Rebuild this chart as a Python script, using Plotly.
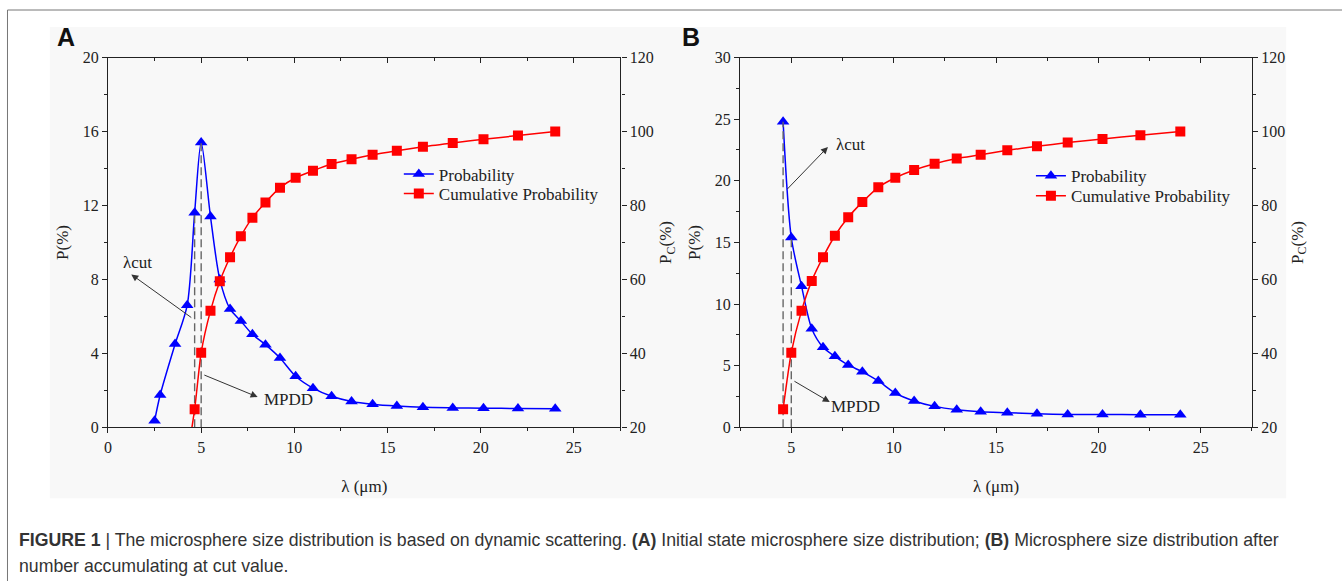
import plotly.graph_objects as go

# ---------------- data ----------------
# Panel A : initial state
lam_A = [2.5, 2.8, 3.6, 4.25, 4.65, 5.0, 5.5, 6.0, 6.55, 7.13, 7.75, 8.45, 9.23,
         10.07, 11.0, 12.0, 13.07, 14.2, 15.5, 16.9, 18.5, 20.15, 22.0, 24.0]
prob_A = [0.35, 1.75, 4.5, 6.6, 11.6, 15.4, 11.4, 8.0, 6.4, 5.75, 5.03, 4.47, 3.75,
          2.76, 2.12, 1.68, 1.4, 1.25, 1.15, 1.08, 1.05, 1.03, 1.02, 1.0]
cum_A = [0.35, 2.1, 6.6, 13.2, 24.9, 40.2, 51.5, 59.5, 66.0, 71.7, 76.7, 80.8, 84.8,
         87.5, 89.4, 91.2, 92.5, 93.7, 94.8, 95.9, 96.9, 97.9, 98.9, 100.0]

# Panel B : after accumulation at the cut value
lam_B = [4.6, 5.0, 5.5, 6.0, 6.55, 7.13, 7.78, 8.47, 9.25, 10.08, 11.0, 12.0, 13.08,
         14.25, 15.55, 17.0, 18.5, 20.2, 22.05, 24.0]
prob_B = [24.8, 15.4, 11.45, 8.0, 6.5, 5.76, 5.06, 4.5, 3.76, 2.78, 2.14, 1.7, 1.43,
          1.27, 1.19, 1.1, 1.05, 1.04, 1.03, 1.03]
cum_B = [24.9, 40.2, 51.5, 59.6, 66.0, 71.8, 76.8, 80.9, 84.9, 87.5, 89.6, 91.3, 92.7,
         93.7, 94.9, 96.0, 97.0, 98.0, 99.0, 100.0]

cut_idx_A, mpdd_idx_A = 4, 5
cut_idx_B, mpdd_idx_B = 0, 1

x_ticks = [0, 5, 10, 15, 20, 25]
yA_ticks = [0, 4, 8, 12, 16, 20]
yB_ticks = [0, 5, 10, 15, 20, 25, 30]
pc_ticks = [20, 40, 60, 80, 100, 120]

# ---------------- geometry / styles ----------------
W, H = 1342, 581
OFFX, OFFY, SY = 4, 8, 0.97   # page offset / vertical scale seen in the photograph
SERIF = "Liberation Serif"
INK = "#222222"
BLUE = "#0000ff"
RED = "#ff0000"


def fx(px):
    return (px - OFFX) / W


def fy(py):
    return 1 - ((py - OFFY) / SY) / H


fig = go.Figure()


def add_panel(lam, prob, cum, xa, ya, ya2, xtop, lg1, lg2, cut_i, mpdd_i):
    fig.add_trace(go.Scatter(
        x=lam, y=prob, name="Probability", mode="lines+markers",
        line=dict(color=BLUE, width=1.5, shape="spline", smoothing=0.8),
        marker=dict(symbol="triangle-up", size=11, color=BLUE),
        xaxis=xa, yaxis=ya, legend=lg1))
    fig.add_trace(go.Scatter(
        x=lam, y=cum, name="Cumulative Probability", mode="lines+markers",
        line=dict(color=RED, width=1.5, shape="spline", smoothing=0.6),
        marker=dict(symbol="square", size=10, color=RED),
        xaxis=xa, yaxis=ya2, legend=lg2))
    for i in (cut_i, mpdd_i):
        fig.add_trace(go.Scatter(
            x=[lam[i], lam[i]], y=[0, prob[i]], mode="lines",
            line=dict(color="#666666", width=1.4, dash="8px,4px"),
            showlegend=False, hoverinfo="skip", xaxis=xa, yaxis=ya))
    # dummy trace so that the top (mirror) axis is drawn
    fig.add_trace(go.Scatter(x=[None], y=[None], xaxis=xtop, yaxis=ya,
                             showlegend=False, hoverinfo="skip"))


add_panel(lam_A, prob_A, cum_A, "x", "y", "y2", "x2", "legend", "legend2",
          cut_idx_A, mpdd_idx_A)
add_panel(lam_B, prob_B, cum_B, "x3", "y3", "y4", "x4", "legend3", "legend4",
          cut_idx_B, mpdd_idx_B)

tickfont = dict(family=SERIF, size=16, color=INK)
titlefont = dict(family=SERIF, size=17, color=INK)


def axis(**kw):
    d = dict(showline=True, linecolor=INK, linewidth=1.3, ticks="outside", ticklen=5,
             tickwidth=1.2, tickcolor=INK, showgrid=False, zeroline=False,
             tickfont=tickfont, fixedrange=True)
    d.update(kw)
    return d


def minor(dt, ticks="outside"):
    return dict(ticks=ticks, ticklen=3, tickwidth=1.2, tickcolor=INK, dtick=dt, showgrid=False)


def legend_at(px, py):
    return dict(x=fx(px), y=fy(py), xanchor="left", yanchor="top",
                bgcolor="rgba(0,0,0,0)", font=dict(family=SERIF, size=17, color=INK))


domA = [fx(108.3), fx(622.3)]
domB = [fx(742.3), fx(1255.7)]
domY = [fy(427), fy(57.5)]

fig.update_layout(
    width=W, height=H, margin=dict(l=0, r=0, t=0, b=0),
    paper_bgcolor="white", plot_bgcolor="rgba(0,0,0,0)",
    showlegend=True,
    # ---- panel A
    xaxis=axis(domain=domA, range=[0, 27.5], tickvals=x_ticks, anchor="y",
               minor=minor(2.5),
               title=dict(text="λ (μm)", font=titlefont, standoff=25)),
    xaxis2=axis(domain=domA, range=[0, 27.5], tickvals=x_ticks, anchor="y",
                overlaying="x", side="top", ticks="inside", showticklabels=False,
                minor=minor(2.5, "inside")),
    yaxis=axis(domain=domY, range=[0, 20], tickvals=yA_ticks, anchor="x",
               minor=minor(2),
               title=dict(text="P(%)", font=titlefont, standoff=9)),
    yaxis2=axis(domain=domY, range=[20, 120], tickvals=pc_ticks, anchor="x",
                overlaying="y", side="right", minor=minor(10),
                title=dict(text="P<sub>C</sub>(%)", font=titlefont, standoff=6)),
    # ---- panel B
    xaxis3=axis(domain=domB, range=[2.5, 27.5], tickvals=x_ticks, anchor="y3",
                minor=minor(2.5),
                title=dict(text="λ (μm)", font=titlefont, standoff=25)),
    xaxis4=axis(domain=domB, range=[2.5, 27.5], tickvals=x_ticks, anchor="y3",
                overlaying="x3", side="top", ticks="inside", showticklabels=False,
                minor=minor(2.5, "inside")),
    yaxis3=axis(domain=domY, range=[0, 30], tickvals=yB_ticks, anchor="x3",
                minor=minor(2.5),
                title=dict(text="P(%)", font=titlefont, standoff=9)),
    yaxis4=axis(domain=domY, range=[20, 120], tickvals=pc_ticks, anchor="x3",
                overlaying="y3", side="right", minor=minor(10),
                title=dict(text="P<sub>C</sub>(%)", font=titlefont, standoff=6)),
    legend=legend_at(400, 156.4),
    legend2=legend_at(400, 175.7),
    legend3=legend_at(1034, 158.1),
    legend4=legend_at(1034, 178.1),
)

# background panel of the figure image and outer frame
fig.add_shape(type="rect", xref="paper", yref="paper", x0=fx(50), x1=fx(1290),
              y0=fy(498), y1=fy(27), fillcolor="#f8f8f8", line=dict(width=0),
              layer="below")
fig.add_shape(type="rect", xref="paper", yref="paper", x0=fx(7.5), x1=1.05,
              y0=-0.05, y1=fy(10), fillcolor="rgba(0,0,0,0)",
              line=dict(color="#777777", width=1), layer="below")

ann_font = dict(family=SERIF, size=17, color=INK)
arrow = dict(showarrow=True, arrowhead=2, arrowsize=1.4, arrowwidth=1,
             arrowcolor="#333333", text="")

# Panel A annotations
fig.add_annotation(x=1.25, y=8.27, ax=4.55, ay=5.88, xref="x", yref="y",
                   axref="x", ayref="y", **arrow)
fig.add_annotation(x=1.6, y=8.92, xref="x", yref="y", text="λcut", showarrow=False,
                   font=ann_font)
fig.add_annotation(x=8.03, y=1.64, ax=5.09, ay=2.86, xref="x", yref="y",
                   axref="x", ayref="y", **arrow)
fig.add_annotation(x=9.68, y=1.5, xref="x", yref="y", text="MPDD", showarrow=False,
                   font=ann_font)

# Panel B annotations
fig.add_annotation(x=6.79, y=22.75, ax=4.73, ay=19.2, xref="x3", yref="y3",
                   axref="x3", ayref="y3", **arrow)
fig.add_annotation(x=7.9, y=22.97, xref="x3", yref="y3", text="λcut", showarrow=False,
                   font=ann_font)
fig.add_annotation(x=6.88, y=2.05, ax=5.08, ay=3.81, xref="x3", yref="y3",
                   axref="x3", ayref="y3", **arrow)
fig.add_annotation(x=8.16, y=1.65, xref="x3", yref="y3", text="MPDD", showarrow=False,
                   font=ann_font)

# panel letters
for letter, px in (("A", 66), ("B", 693)):
    fig.add_annotation(x=fx(px), y=fy(37), xref="paper", yref="paper",
                       text=f"<b>{letter}</b>", showarrow=False, xanchor="center",
                       yanchor="middle",
                       font=dict(family="Liberation Sans", size=25, color="#111111"))

# caption
cap_font = dict(family="Liberation Sans", size=17.7, color="#333333")
fig.add_annotation(
    x=fx(17), y=fy(540), xref="paper", yref="paper", xanchor="left", yanchor="middle",
    showarrow=False, font=cap_font,
    text="<b>FIGURE 1</b> | The microsphere size distribution is based on dynamic scattering. "
         "<b>(A)</b> Initial state microsphere size distribution; <b>(B)</b> Microsphere size "
         "distribution after")
fig.add_annotation(
    x=fx(17), y=fy(566), xref="paper", yref="paper", xanchor="left", yanchor="middle",
    showarrow=False, font=cap_font, text="number accumulating at cut value.")

fig.write_html("out.html")
